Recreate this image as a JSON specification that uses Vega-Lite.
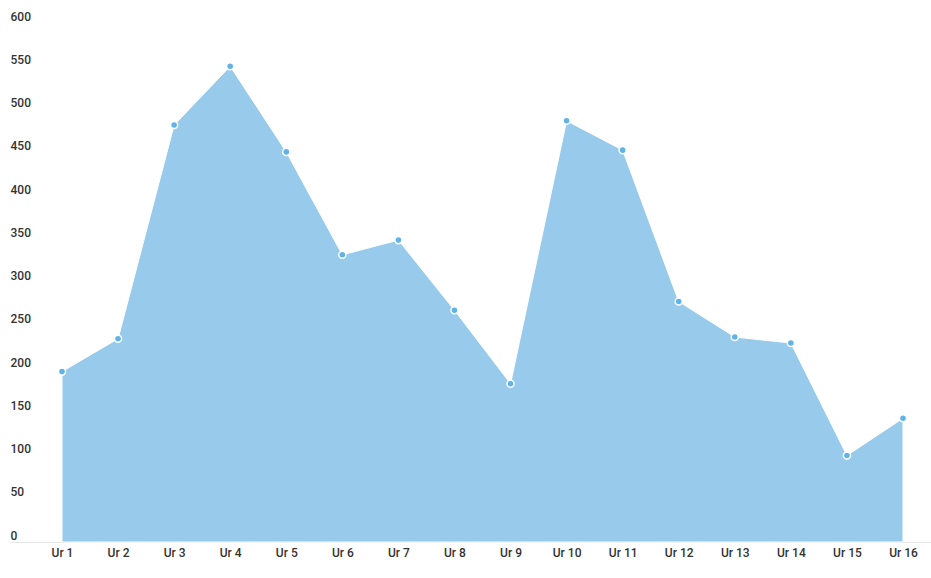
{
  "$schema": "https://vega.github.io/schema/vega-lite/v6.json",
  "width": 921,
  "height": 519,
  "autosize": {"type": "none"},
  "padding": {"left": 10, "top": 23, "right": 0, "bottom": 36},
  "background": "white",
  "config": {
    "view": {"stroke": null},
    "font": "Roboto",
    "axis": {"labelFont": "Roboto", "labelColor": "#333333", "labelFontSize": 12, "labelFontWeight": 500}
  },
  "data": {
    "values": [
      {"ura": "Ur 1", "v": 197},
      {"ura": "Ur 2", "v": 235},
      {"ura": "Ur 3", "v": 482},
      {"ura": "Ur 4", "v": 550},
      {"ura": "Ur 5", "v": 451},
      {"ura": "Ur 6", "v": 332},
      {"ura": "Ur 7", "v": 349},
      {"ura": "Ur 8", "v": 268},
      {"ura": "Ur 9", "v": 183},
      {"ura": "Ur 10", "v": 487},
      {"ura": "Ur 11", "v": 453},
      {"ura": "Ur 12", "v": 278},
      {"ura": "Ur 13", "v": 237},
      {"ura": "Ur 14", "v": 230},
      {"ura": "Ur 15", "v": 100},
      {"ura": "Ur 16", "v": 143}
    ]
  },
  "encoding": {
    "x": {
      "field": "ura",
      "type": "ordinal",
      "sort": null,
      "scale": {"type": "point", "padding": 0.7134, "align": 0.65},
      "axis": {
        "title": null,
        "labelAngle": 0,
        "ticks": false,
        "tickSize": 0,
        "labelPadding": 5,
        "domain": true,
        "domainColor": "#e6e6e6",
        "domainWidth": 1,
        "grid": false
      }
    },
    "y": {
      "field": "v",
      "type": "quantitative",
      "scale": {"domain": [0, 600], "nice": false, "zero": true},
      "axis": {
        "title": null,
        "values": [0, 50, 100, 150, 200, 250, 300, 350, 400, 450, 500, 550, 600],
        "ticks": false,
        "tickSize": 0,
        "domain": false,
        "grid": false,
        "labelAlign": "left",
        "labelBaseline": "bottom",
        "labelPadding": 0
      }
    }
  },
  "layer": [
    {
      "mark": {"type": "area", "color": "#98cbeb", "stroke": "white", "strokeWidth": 1, "opacity": 1}
    },
    {
      "mark": {"type": "point", "filled": true, "fill": "#5fb3e6", "stroke": "white", "strokeWidth": 1.5, "size": 50, "opacity": 1}
    }
  ]
}
